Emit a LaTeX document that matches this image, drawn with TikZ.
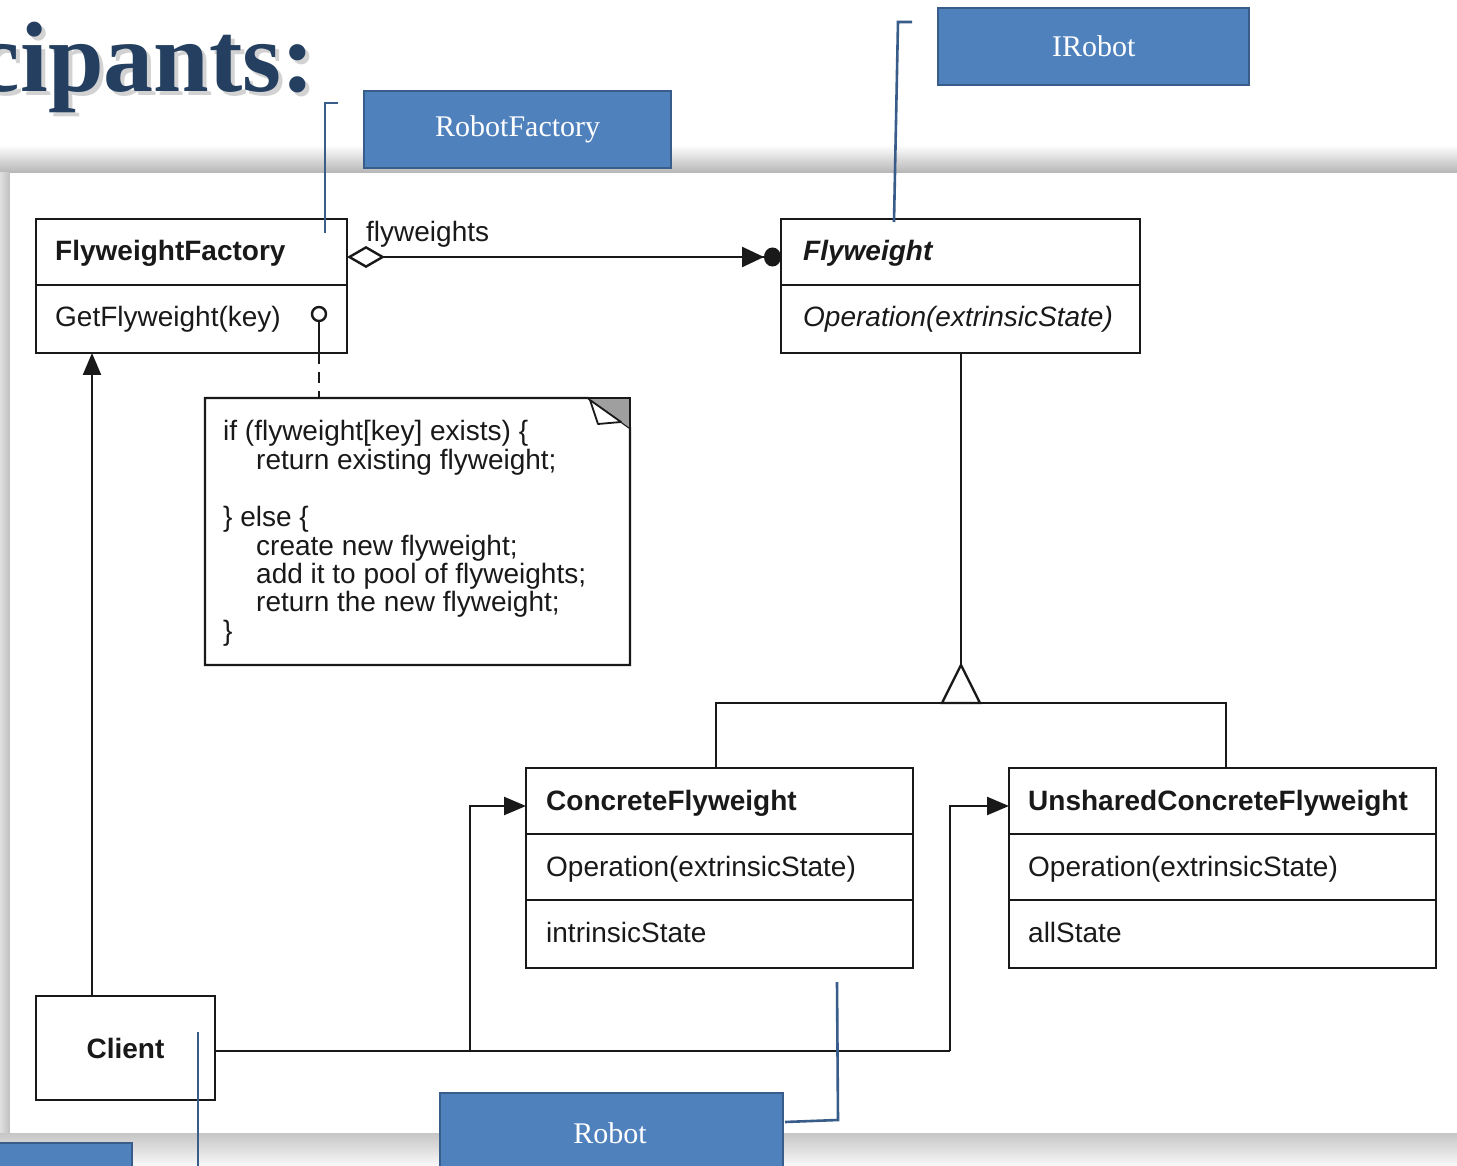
\documentclass[tikz,border=0pt]{standalone}
\usepackage{fontspec}
\setmainfont{Liberation Serif}
\setsansfont{Liberation Sans}
\usetikzlibrary{arrows.meta,shapes.geometric}
\definecolor{boxblue}{RGB}{79,129,189}
\definecolor{boxedge}{RGB}{56,93,138}
\definecolor{titleblue}{RGB}{36,63,96}
\definecolor{ink}{RGB}{25,25,25}
\begin{document}
\begin{tikzpicture}[x=1pt,y=-1pt,
  uml/.style={draw=ink,line width=2.4pt,anchor=north west,inner sep=0,outer sep=0},
  umltext/.style={anchor=base west,inner sep=0,font=\fontsize{28}{30}\sffamily,text=ink},
  umlbold/.style={umltext,font=\fontsize{28}{30}\sffamily\bfseries},
  conn/.style={draw=ink,line width=2.4pt},
  bluebox/.style={fill=boxblue,draw=boxedge,line width=2.4pt,anchor=north west,inner sep=0,text=white,font=\fontsize{30}{32}\selectfont},
  callout/.style={draw=boxedge,line width=2.6pt},
  fillarrow/.style={-{Triangle[length=22pt,width=18pt]}}
]
\useasboundingbox (0,0) rectangle (1457,1166);
\clip (0,0) rectangle (1457,1166);
% background and panel shadow
\fill[white] (0,0) rectangle (1457,1166);
\shade[top color=white,bottom color=gray!60] (0,145) rectangle (1457,174);
\shade[left color=gray!25,right color=gray!50] (0,173) rectangle (10,1134);
\shade[top color=gray!45,bottom color=gray!5] (0,1133) rectangle (1457,1166);
\fill[white] (10,173) rectangle (1457,1133);
% title
\node[anchor=base east,inner sep=0,text=gray!70,opacity=0.5,font=\fontsize{100}{100}\selectfont\bfseries] (titleshadow) at (319,96) {Participants:};
\node[anchor=base east,inner sep=0,text=titleblue,font=\fontsize{100}{100}\selectfont\bfseries] (title) at (315,92) {Participants:};
% UML classes
\node[uml,minimum width=311,minimum height=134] (ff) at (36,219) {};
\draw[conn] (ff.west |- 0,285) -- (ff.east |- 0,285);
\node[umlbold] (fftitle) at (55,261) {FlyweightFactory};
\node[umltext] (ffop) at (55,327) {GetFlyweight(key)};

\node[uml,minimum width=359,minimum height=134] (fw) at (781,219) {};
\draw[conn] (fw.west |- 0,285) -- (fw.east |- 0,285);
\node[umlbold,font=\fontsize{28}{30}\sffamily\bfseries\itshape] (fwtitle) at (803,261) {Flyweight};
\node[umltext,font=\fontsize{28}{30}\sffamily\itshape] (fwop) at (803,327) {Operation(extrinsicState)};

\node[uml,minimum width=387,minimum height=200] (cf) at (526,768) {};
\draw[conn] (cf.west |- 0,834) -- (cf.east |- 0,834);
\draw[conn] (cf.west |- 0,900) -- (cf.east |- 0,900);
\node[umlbold] (cftitle) at (546,810) {ConcreteFlyweight};
\node[umltext] (cfop) at (546,876) {Operation(extrinsicState)};
\node[umltext] (cfst) at (546,942) {intrinsicState};

\node[uml,minimum width=427,minimum height=200] (ucf) at (1009,768) {};
\draw[conn] (ucf.west |- 0,834) -- (ucf.east |- 0,834);
\draw[conn] (ucf.west |- 0,900) -- (ucf.east |- 0,900);
\node[umlbold] (ucftitle) at (1028,810) {UnsharedConcreteFlyweight};
\node[umltext] (ucfop) at (1028,876) {Operation(extrinsicState)};
\node[umltext] (ucfst) at (1028,942) {allState};

\node[uml,minimum width=179,minimum height=104,font=\fontsize{28}{30}\sffamily\bfseries,text=ink] (client) at (36,996) {Client};

% note
\node[inner sep=0,outer sep=0,minimum width=425,minimum height=267,anchor=north west] (note) at (205,398) {};
\draw[conn,line join=miter] (note.north west) -- ([xshift=-42pt]note.north east) -- ([yshift=-30pt]note.north east) -- (note.south east) -- (note.south west) -- cycle;
\fill[gray!75] ([xshift=-42pt]note.north east) -- (note.north east) -- ([yshift=-30pt]note.north east) -- cycle;
\draw[conn] ([xshift=-42pt]note.north east) -- (note.north east) -- ([yshift=-30pt]note.north east);
\draw[ink,fill=white,line width=1.8pt,line join=round] ([xshift=-40pt,yshift=-2pt]note.north east) -- ([xshift=-32pt,yshift=-26pt]note.north east) -- ([xshift=-9pt,yshift=-24pt]note.north east) -- cycle;
\node[umltext] (n1) at (223,440) {if (flyweight[key] exists) \{};
\node[umltext] (n2) at (256,469) {return existing flyweight;};
\node[umltext] (n3) at (223,526) {\} else \{};
\node[umltext] (n4) at (256,555) {create new flyweight;};
\node[umltext] (n5) at (256,583) {add it to pool of flyweights;};
\node[umltext] (n6) at (256,611) {return the new flyweight;};
\node[umltext] (n7) at (223,640) {\}};

% pin and dashed link
\node[circle,draw=ink,line width=2.4pt,minimum size=14pt,inner sep=0,fill=white] (pin) at (319,314) {};
\draw[conn] (pin.south) -- (ff.south -| pin.south);
\draw[conn,dash pattern=on 11pt off 8pt] (ff.south -| pin.south) -- (note.north -| pin.south);

% aggregation
\draw[conn,{Diamond[open,fill=white,length=38pt,width=22pt]}-{Triangle[length=22pt,width=20pt] Circle[length=17pt,width=19pt]}] (ff.east |- 0,257) -- (fw.west |- 0,257);
\node[umltext] (fwlabel) at (366,242) {flyweights};

% client links
\draw[conn,fillarrow] (client.north -| 92,0) -- (ff.south -| 92,0);
\coordinate (j1) at (470,1051);
\coordinate (j2) at (950,1051);
\draw[conn] (client.east |- j1) -- (j2);
\draw[conn,fillarrow] (j1) |- (cf.west |- 0,806);
\draw[conn,fillarrow] (j2) |- (ucf.west |- 0,806);

% inheritance
\coordinate (apex) at (961,665);
\coordinate (tb) at (961,703);
\draw[conn] (fw.south -| apex) -- (apex);
\draw[conn] (cf.north -| 716,0) |- (tb) -| (ucf.north -| 1226,0);
\draw[conn,fill=white,line join=miter] (apex) -- ([xshift=19pt]tb) -- ([xshift=-19pt]tb) -- cycle;

% blue callout boxes
\node[bluebox,minimum width=307,minimum height=77] (rf) at (363,90) {\raisebox{-3pt}{RobotFactory}};
\node[bluebox,minimum width=311,minimum height=77] (ir) at (937,7) {\raisebox{-2pt}{IRobot}};
\node[bluebox,minimum width=343,minimum height=110] (rb) at (439,1092) {};
\node[anchor=center,inner sep=0,text=white,font=\fontsize{30}{32}\selectfont] (rbtext) at (610,1133) {Robot};
\node[bluebox,minimum width=136,minimum height=60] (bl) at (-5,1142) {};

% callout lines
\coordinate (rfa) at (338,103);
\coordinate (rfb) at (325,233);
\draw[callout] (rfa) -- (rfb |- rfa) -- (rfb);
\coordinate (ira) at (912,22);
\coordinate (irb) at (894,222);
\draw[callout] (ira) -- (898,22) -- (irb);
\coordinate (rba) at (785,1122);
\coordinate (rbb) at (837,982);
\draw[callout] (rba) -- (838,1120) -- (rbb);
\coordinate (cla) at (198,1032);
\coordinate (clb) at (198,1170);
\draw[callout] (cla) -- (clb);
\end{tikzpicture}
\end{document}
